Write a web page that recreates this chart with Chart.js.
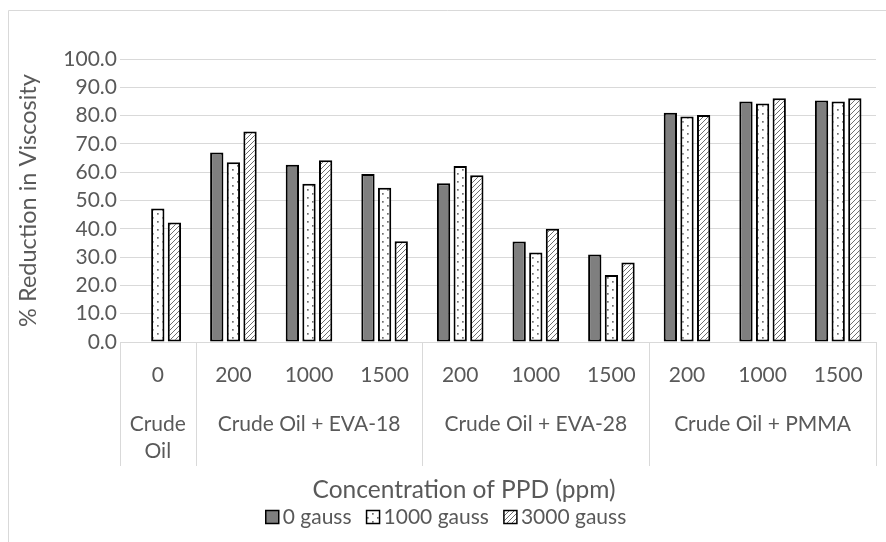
<!DOCTYPE html>
<html>
<head>
<meta charset="utf-8">
<script src="https://cdn.jsdelivr.net/npm/chart.js@4.4.1/dist/chart.umd.min.js"></script>
<style>
  html, body { margin: 0; padding: 0; background: #ffffff; }
  #wrap { width: 886px; height: 542px; position: relative; }
</style>
</head>
<body>
<div id="wrap"><canvas id="c" width="886" height="542"></canvas></div>
<script>
// ---- data ----
const categories = ['0', '200', '1000', '1500', '200', '1000', '1500', '200', '1000', '1500'];
const groupLabels = [['Crude', 'Oil'], ['Crude Oil + EVA-18'], ['Crude Oil + EVA-28'], ['Crude Oil + PMMA']];
const groupSizes = [1, 3, 3, 3];
const seriesNames = ['0 gauss', '1000 gauss', '3000 gauss'];
const gauss0    = [0,    67.0, 62.6, 59.4, 56.1, 35.5, 30.9, 81.0, 85.0, 85.3];
const gauss1000 = [47.2, 63.5, 55.9, 54.5, 62.2, 31.6, 23.7, 79.7, 84.3, 85.0];
const gauss3000 = [42.2, 74.4, 64.2, 35.6, 58.9, 40.0, 28.1, 80.2, 86.1, 86.1];
const yTitle = '% Reduction in Viscosity';
const xTitle = 'Concentration of PPD (ppm)';

// ---- patterns ----
function dotPattern() {
  const t = document.createElement('canvas');
  t.width = 10; t.height = 8;
  const g = t.getContext('2d');
  g.fillStyle = '#ffffff'; g.fillRect(0, 0, 10, 8);
  g.fillStyle = '#6f6f6f';
  g.fillRect(2, 1, 1.7, 1.7);
  g.fillRect(7, 5, 1.7, 1.7);
  return g.createPattern(t, 'repeat');
}
function hatchPattern() {
  const s = 5;
  const t = document.createElement('canvas');
  t.width = s; t.height = s;
  const g = t.getContext('2d');
  g.fillStyle = '#ffffff'; g.fillRect(0, 0, s, s);
  g.strokeStyle = '#6f6f6f'; g.lineWidth = 1;
  g.beginPath();
  g.moveTo(0, s); g.lineTo(s, 0);
  g.moveTo(-1, 1); g.lineTo(1, -1);
  g.moveTo(s - 1, s + 1); g.lineTo(s + 1, s - 1);
  g.stroke();
  return g.createPattern(t, 'repeat');
}

const FONT = 'Lato';
const TXT = '#595959';
const GRID = '#d9d9d9';
const fills = ['#7f7f7f', dotPattern(), hatchPattern()];

const groupPlugin = {
  id: 'groups',
  beforeDraw(chart) {
    const ctx = chart.ctx;
    ctx.save();
    ctx.strokeStyle = GRID; ctx.lineWidth = 1;
    ctx.beginPath();
    ctx.moveTo(8.5, 542); ctx.lineTo(8.5, 10.5); ctx.lineTo(886, 10.5);
    ctx.stroke();
    ctx.restore();
  },
  afterDraw(chart) {
    const ctx = chart.ctx;
    const x = chart.scales.x;
    const area = chart.chartArea;
    const cw = x.getPixelForValue(1) - x.getPixelForValue(0);
    ctx.save();
    ctx.strokeStyle = GRID; ctx.lineWidth = 1;
    ctx.fillStyle = TXT;
    ctx.font = '21px ' + FONT;
    ctx.textAlign = 'center'; ctx.textBaseline = 'middle';
    let idx = 0;
    const bottomY = 466;
    const edges = [];
    groupSizes.forEach((n, gi) => {
      const left = x.getPixelForValue(idx) - cw / 2;
      const right = x.getPixelForValue(idx + n - 1) + cw / 2;
      edges.push(left);
      if (gi === groupSizes.length - 1) edges.push(right);
      const cx = (left + right) / 2;
      groupLabels[gi].forEach((line, li) => {
        ctx.fillText(line, cx, 424 + li * 27);
      });
      idx += n;
    });
    ctx.beginPath();
    edges.forEach(e => {
      const px = Math.round(e) + 0.5;
      ctx.moveTo(px, area.bottom); ctx.lineTo(px, bottomY);
    });
    ctx.stroke();
    // x axis title
    ctx.font = '24.5px ' + FONT;
    ctx.fillText(xTitle, 464, 490);
    // legend
    ctx.font = '21px ' + FONT;
    ctx.textAlign = 'left';
    const gap = 4, itemGap = 15, box = 13, ly = 517;
    const widths = seriesNames.map(s => box + gap + ctx.measureText(s).width);
    const total = widths.reduce((a, b) => a + b, 0) + itemGap * (seriesNames.length - 1);
    let lx = 446 - total / 2;
    seriesNames.forEach((s, i) => {
      ctx.fillStyle = fills[i];
      ctx.fillRect(lx, ly - box / 2, box, box);
      ctx.strokeStyle = '#000000'; ctx.lineWidth = 1.5;
      ctx.strokeRect(lx, ly - box / 2, box, box);
      ctx.fillStyle = TXT;
      ctx.fillText(s, lx + box + gap, ly);
      lx += widths[i] + itemGap;
    });
    ctx.restore();
  }
};

const common = { borderColor: '#000000', borderWidth: 2, borderSkipped: false,
  categoryPercentage: 0.66, barPercentage: 0.8 };

new Chart(document.getElementById('c'), {
  type: 'bar',
  data: {
    labels: categories,
    datasets: seriesNames.map((name, i) => Object.assign({
      label: name, data: [gauss0, gauss1000, gauss3000][i], backgroundColor: fills[i]
    }, common))
  },
  options: {
    responsive: false,
    animation: false,
    layout: { padding: { left: 10, right: 10, top: 59, bottom: 40 } },
    plugins: {
      legend: { display: false },
      tooltip: { enabled: false }
    },
    scales: {
      x: {
        grid: { display: false, drawTicks: false },
        border: { display: true, color: GRID, width: 1 },
        ticks: { font: { family: FONT, size: 21 }, color: TXT, padding: 21, maxRotation: 0, autoSkip: false },
        afterFit(s) { s.height = 160; }
      },
      y: {
        min: 0, max: 100,
        grid: { color: GRID, drawTicks: false },
        border: { display: false },
        ticks: { stepSize: 10, font: { family: FONT, size: 21 }, color: TXT, padding: 3,
          callback: v => Number(v).toFixed(1) },
        title: { display: true, text: yTitle, font: { family: FONT, size: 23.5 }, color: TXT, padding: { top: 4, bottom: 0 } },
        afterFit(s) { s.width = 110; }
      }
    }
  },
  plugins: [groupPlugin]
});
</script>
</body>
</html>
